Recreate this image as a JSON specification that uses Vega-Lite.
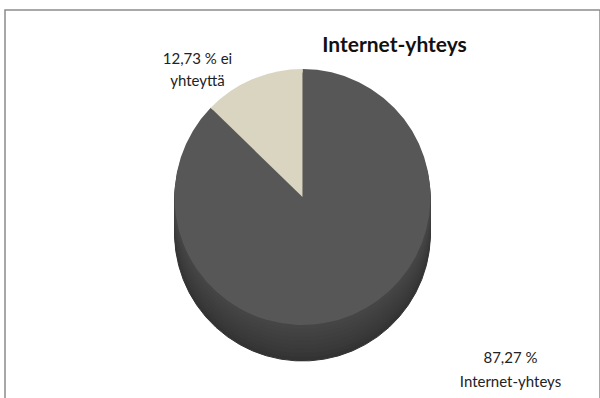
{
  "$schema": "https://vega.github.io/schema/vega-lite/v6.json",
  "width": 600,
  "height": 398,
  "autosize": {"type": "fit", "contains": "padding"},
  "padding": {"left": 5, "top": 10, "right": 0, "bottom": -10},
  "background": "white",
  "view": {"stroke": "#8c8c8c", "strokeWidth": 1.5, "fill": "white"},
  "title": {
    "text": "Internet-yhteys",
    "font": "Lato",
    "fontSize": 21,
    "fontWeight": "bold",
    "color": "#111111",
    "anchor": "middle",
    "dx": 92,
    "offset": -46
  },
  "data": {
    "values": [
      {"group": "Internet-yhteys", "percent": 87.27, "order": 1},
      {"group": "ei yhteyttä", "percent": 12.73, "order": 2}
    ]
  },
  "encoding": {
    "theta": {"field": "percent", "type": "quantitative", "stack": true},
    "order": {"field": "order", "type": "quantitative"}
  },
  "layer": [
    {"mark": {"type": "arc", "outerRadius": 128, "yOffset": 24, "color": "#333333", "stroke": "#333333", "strokeWidth": 1}},
    {"mark": {"type": "arc", "outerRadius": 128, "yOffset": 20, "color": "#363636", "stroke": "#363636", "strokeWidth": 1}},
    {"mark": {"type": "arc", "outerRadius": 128, "yOffset": 16, "color": "#393939", "stroke": "#393939", "strokeWidth": 1}},
    {"mark": {"type": "arc", "outerRadius": 128, "yOffset": 12, "color": "#3b3b3b", "stroke": "#3b3b3b", "strokeWidth": 1}},
    {"mark": {"type": "arc", "outerRadius": 128, "yOffset": 8, "color": "#3d3d3d", "stroke": "#3d3d3d", "strokeWidth": 1}},
    {"mark": {"type": "arc", "outerRadius": 128, "yOffset": 4, "color": "#3f3f3f", "stroke": "#3f3f3f", "strokeWidth": 1}},
    {"mark": {"type": "arc", "outerRadius": 128, "yOffset": 0, "color": "#414141", "stroke": "#414141", "strokeWidth": 1}},
    {"mark": {"type": "arc", "outerRadius": 128, "yOffset": -4, "color": "#434343", "stroke": "#434343", "strokeWidth": 1}},
    {"mark": {"type": "arc", "outerRadius": 128, "yOffset": -8, "color": "#454545", "stroke": "#454545", "strokeWidth": 1}},
    {
      "mark": {"type": "arc", "outerRadius": 128, "yOffset": -12},
      "encoding": {
        "color": {
          "field": "group",
          "type": "nominal",
          "scale": {"domain": ["Internet-yhteys", "ei yhteyttä"], "range": ["#575757", "#d9d5c0"]},
          "legend": null
        }
      }
    },
    {
      "transform": [{"filter": "datum.order === 1"}],
      "mark": {"type": "text", "font": "Lato", "fontSize": 15, "color": "#222222", "lineHeight": 24, "radius": 0, "dx": 208, "dy": 149, "align": "center", "baseline": "middle"},
      "encoding": {"text": {"value": ["87,27 %", "Internet-yhteys"]}, "theta": {"value": 0}}
    },
    {
      "transform": [{"filter": "datum.order === 2"}],
      "mark": {"type": "text", "font": "Lato", "fontSize": 15, "color": "#222222", "lineHeight": 22, "radius": 0, "dx": -105, "dy": -150, "align": "center", "baseline": "middle"},
      "encoding": {"text": {"value": ["12,73 % ei", "yhteyttä"]}, "theta": {"value": 0}}
    }
  ]
}
